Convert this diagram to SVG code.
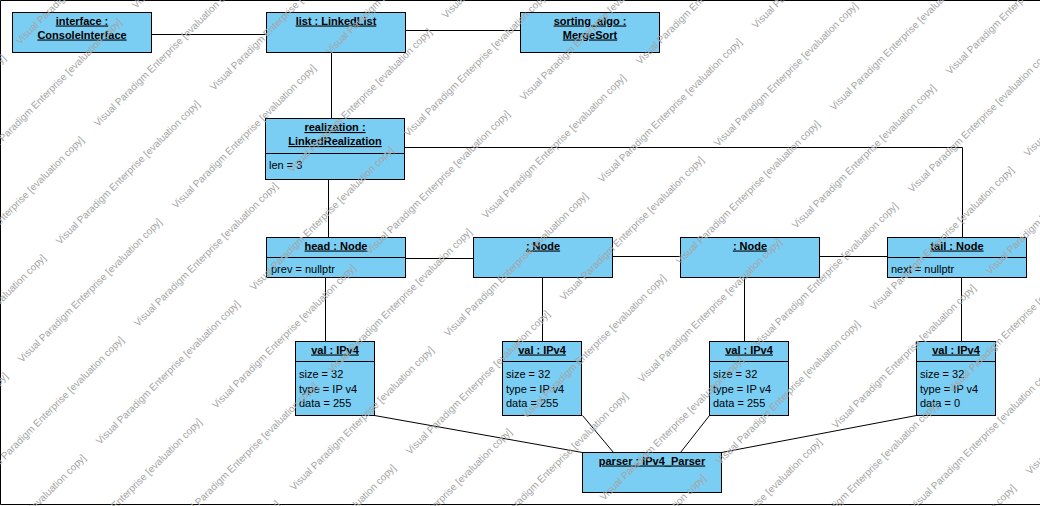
<svg xmlns="http://www.w3.org/2000/svg" xmlns:xlink="http://www.w3.org/1999/xlink" width="1040" height="506" viewBox="0 0 1040 506">
<style>
.box{fill:#7acef4;stroke:#000;stroke-width:1}
.div{stroke:#000;stroke-width:1;fill:none}
.t{font-family:"Liberation Sans",Arial,sans-serif;font-size:11px;font-weight:bold;text-anchor:middle;text-decoration:underline;fill:#000}
.a{font-family:"Liberation Sans",Arial,sans-serif;font-size:11px;fill:#000}
.c{stroke:#000;stroke-width:1;fill:none}
.wm{font-family:"Liberation Sans",Arial,sans-serif;font-size:10px;fill:#a4a4a4}
</style>
<defs>
<text id="wm" class="wm">Visual Paradigm Enterprise [evaluation copy]</text>
</defs>
<rect x="0" y="0" width="1040" height="506" fill="#fff"/>
<path d="M1045,0.5 H0.5 V504.5 H1045" class="c"/>
<g id="connectors">
<line class="c" x1="151.5" y1="34.5" x2="266.5" y2="34.5"/>
<line class="c" x1="405.5" y1="30.5" x2="520.5" y2="30.5"/>
<line class="c" x1="331.5" y1="52.5" x2="331.5" y2="118.5"/>
<line class="c" x1="328.5" y1="179.5" x2="328.5" y2="237.5"/>
<polyline class="c" points="404.5,147.5 962.5,147.5 962.5,237.5"/>
<line class="c" x1="405.5" y1="258.5" x2="473.5" y2="258.5"/>
<line class="c" x1="612.5" y1="256.5" x2="680.5" y2="256.5"/>
<line class="c" x1="819.5" y1="256.5" x2="887.5" y2="256.5"/>
<line class="c" x1="325.5" y1="277.5" x2="325.5" y2="341.5"/>
<line class="c" x1="542.5" y1="277.5" x2="542.5" y2="341.5"/>
<line class="c" x1="744.5" y1="277.5" x2="744.5" y2="341.5"/>
<line class="c" x1="961.5" y1="277.5" x2="961.5" y2="341.5"/>
<line class="c" x1="374.5" y1="415.5" x2="582.5" y2="452.5"/>
<line class="c" x1="582.5" y1="415.5" x2="613.5" y2="452.5"/>
<line class="c" x1="709.5" y1="415.5" x2="680.5" y2="452.5"/>
<line class="c" x1="916.5" y1="415.5" x2="721.5" y2="452.5"/>
</g>
<g id="interface">
<rect class="box" x="12.5" y="12.5" width="139" height="40"/>
<text class="t" x="82" y="24.5">interface :</text>
<text class="t" x="82" y="38.5">ConsoleInterface</text>
</g>
<g id="list">
<rect class="box" x="266.5" y="12.5" width="139" height="40"/>
<text class="t" x="336" y="24.5">list : LinkedList</text>
</g>
<g id="sorting_algo">
<rect class="box" x="520.5" y="12.5" width="139" height="40"/>
<text class="t" x="590" y="24.5">sorting_algo :</text>
<text class="t" x="590" y="38.5">MergeSort</text>
</g>
<g id="realization">
<rect class="box" x="265.5" y="118.5" width="139" height="61"/>
<line class="div" x1="265.5" y1="153.5" x2="404.5" y2="153.5"/>
<text class="t" x="335" y="131">realization :</text>
<text class="t" x="335" y="145">LinkedRealization</text>
<text class="a" x="269" y="169">len = 3</text>
</g>
<g id="head">
<rect class="box" x="266.5" y="237.5" width="139" height="40"/>
<line class="div" x1="266.5" y1="257.5" x2="405.5" y2="257.5"/>
<text class="t" x="336" y="249.5">head : Node</text>
<text class="a" x="271" y="272.5">prev = nullptr</text>
</g>
<g id="node2">
<rect class="box" x="473.5" y="237.5" width="139" height="40"/>
<text class="t" x="543" y="249.5">: Node</text>
</g>
<g id="node3">
<rect class="box" x="680.5" y="237.5" width="139" height="40"/>
<text class="t" x="750" y="249.5">: Node</text>
</g>
<g id="tail">
<rect class="box" x="887.5" y="237.5" width="139" height="40"/>
<line class="div" x1="887.5" y1="257.5" x2="1026.5" y2="257.5"/>
<text class="t" x="957" y="249.5">tail : Node</text>
<text class="a" x="891" y="272.5">next = nullptr</text>
</g>
<g id="val1">
<rect class="box" x="295.5" y="341.5" width="79" height="74"/>
<line class="div" x1="295.5" y1="361.5" x2="374.5" y2="361.5"/>
<text class="t" x="335" y="353.5">val : IPv4</text>
<text class="a" x="299" y="378">size = 32</text>
<text class="a" x="299" y="392.5">type = IP v4</text>
<text class="a" x="299" y="407">data = 255</text>
</g>
<g id="val2">
<rect class="box" x="502.5" y="341.5" width="79" height="74"/>
<line class="div" x1="502.5" y1="361.5" x2="581.5" y2="361.5"/>
<text class="t" x="542" y="353.5">val : IPv4</text>
<text class="a" x="506" y="378">size = 32</text>
<text class="a" x="506" y="392.5">type = IP v4</text>
<text class="a" x="506" y="407">data = 255</text>
</g>
<g id="val3">
<rect class="box" x="709.5" y="341.5" width="79" height="74"/>
<line class="div" x1="709.5" y1="361.5" x2="788.5" y2="361.5"/>
<text class="t" x="749" y="353.5">val : IPv4</text>
<text class="a" x="713" y="378">size = 32</text>
<text class="a" x="713" y="392.5">type = IP v4</text>
<text class="a" x="713" y="407">data = 255</text>
</g>
<g id="val4">
<rect class="box" x="916.5" y="341.5" width="79" height="74"/>
<line class="div" x1="916.5" y1="361.5" x2="995.5" y2="361.5"/>
<text class="t" x="956" y="353.5">val : IPv4</text>
<text class="a" x="920" y="378">size = 32</text>
<text class="a" x="920" y="392.5">type = IP v4</text>
<text class="a" x="920" y="407">data = 0</text>
</g>
<g id="parser">
<rect class="box" x="582.5" y="452.5" width="139" height="40"/>
<text class="t" x="652" y="464.5">parser : IPv4_Parser</text>
</g>
<g id="watermark">
<use xlink:href="#wm" transform="translate(-134,199) rotate(-45)"/>
<use xlink:href="#wm" transform="translate(20,45) rotate(-45)"/>
<use xlink:href="#wm" transform="translate(-18,163) rotate(-45)"/>
<use xlink:href="#wm" transform="translate(136,9) rotate(-45)"/>
<use xlink:href="#wm" transform="translate(-56,281) rotate(-45)"/>
<use xlink:href="#wm" transform="translate(98,127) rotate(-45)"/>
<use xlink:href="#wm" transform="translate(-94,399) rotate(-45)"/>
<use xlink:href="#wm" transform="translate(60,245) rotate(-45)"/>
<use xlink:href="#wm" transform="translate(214,91) rotate(-45)"/>
<use xlink:href="#wm" transform="translate(-132,517) rotate(-45)"/>
<use xlink:href="#wm" transform="translate(22,363) rotate(-45)"/>
<use xlink:href="#wm" transform="translate(176,209) rotate(-45)"/>
<use xlink:href="#wm" transform="translate(330,55) rotate(-45)"/>
<use xlink:href="#wm" transform="translate(-16,481) rotate(-45)"/>
<use xlink:href="#wm" transform="translate(138,327) rotate(-45)"/>
<use xlink:href="#wm" transform="translate(292,173) rotate(-45)"/>
<use xlink:href="#wm" transform="translate(446,19) rotate(-45)"/>
<use xlink:href="#wm" transform="translate(-54,599) rotate(-45)"/>
<use xlink:href="#wm" transform="translate(100,445) rotate(-45)"/>
<use xlink:href="#wm" transform="translate(254,291) rotate(-45)"/>
<use xlink:href="#wm" transform="translate(408,137) rotate(-45)"/>
<use xlink:href="#wm" transform="translate(62,563) rotate(-45)"/>
<use xlink:href="#wm" transform="translate(216,409) rotate(-45)"/>
<use xlink:href="#wm" transform="translate(370,255) rotate(-45)"/>
<use xlink:href="#wm" transform="translate(524,101) rotate(-45)"/>
<use xlink:href="#wm" transform="translate(178,527) rotate(-45)"/>
<use xlink:href="#wm" transform="translate(332,373) rotate(-45)"/>
<use xlink:href="#wm" transform="translate(486,219) rotate(-45)"/>
<use xlink:href="#wm" transform="translate(640,65) rotate(-45)"/>
<use xlink:href="#wm" transform="translate(140,645) rotate(-45)"/>
<use xlink:href="#wm" transform="translate(294,491) rotate(-45)"/>
<use xlink:href="#wm" transform="translate(448,337) rotate(-45)"/>
<use xlink:href="#wm" transform="translate(602,183) rotate(-45)"/>
<use xlink:href="#wm" transform="translate(756,29) rotate(-45)"/>
<use xlink:href="#wm" transform="translate(256,609) rotate(-45)"/>
<use xlink:href="#wm" transform="translate(410,455) rotate(-45)"/>
<use xlink:href="#wm" transform="translate(564,301) rotate(-45)"/>
<use xlink:href="#wm" transform="translate(718,147) rotate(-45)"/>
<use xlink:href="#wm" transform="translate(372,573) rotate(-45)"/>
<use xlink:href="#wm" transform="translate(526,419) rotate(-45)"/>
<use xlink:href="#wm" transform="translate(680,265) rotate(-45)"/>
<use xlink:href="#wm" transform="translate(834,111) rotate(-45)"/>
<use xlink:href="#wm" transform="translate(488,537) rotate(-45)"/>
<use xlink:href="#wm" transform="translate(642,383) rotate(-45)"/>
<use xlink:href="#wm" transform="translate(796,229) rotate(-45)"/>
<use xlink:href="#wm" transform="translate(950,75) rotate(-45)"/>
<use xlink:href="#wm" transform="translate(604,501) rotate(-45)"/>
<use xlink:href="#wm" transform="translate(758,347) rotate(-45)"/>
<use xlink:href="#wm" transform="translate(912,193) rotate(-45)"/>
<use xlink:href="#wm" transform="translate(566,619) rotate(-45)"/>
<use xlink:href="#wm" transform="translate(720,465) rotate(-45)"/>
<use xlink:href="#wm" transform="translate(874,311) rotate(-45)"/>
<use xlink:href="#wm" transform="translate(1028,157) rotate(-45)"/>
<use xlink:href="#wm" transform="translate(682,583) rotate(-45)"/>
<use xlink:href="#wm" transform="translate(836,429) rotate(-45)"/>
<use xlink:href="#wm" transform="translate(990,275) rotate(-45)"/>
<use xlink:href="#wm" transform="translate(798,547) rotate(-45)"/>
<use xlink:href="#wm" transform="translate(952,393) rotate(-45)"/>
<use xlink:href="#wm" transform="translate(914,511) rotate(-45)"/>
<use xlink:href="#wm" transform="translate(876,629) rotate(-45)"/>
<use xlink:href="#wm" transform="translate(1030,475) rotate(-45)"/>
</g>
</svg>
